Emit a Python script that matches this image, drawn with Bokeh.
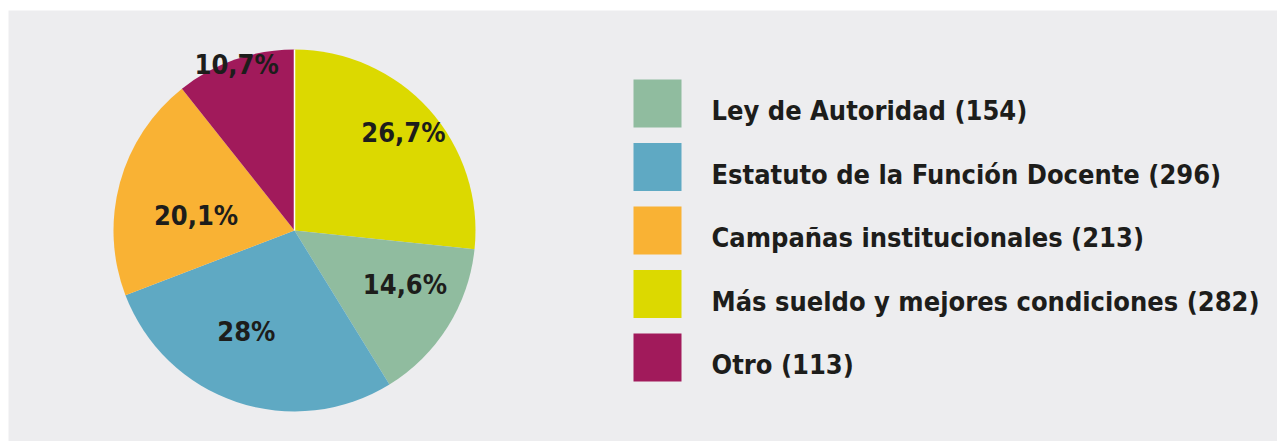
import math
from bokeh.plotting import figure
from bokeh.models import ColumnDataSource
from bokeh.core.properties import value
from bokeh.embed import file_html
from bokeh.resources import INLINE

# ---- data ----
categories = ["Ley de Autoridad", "Estatuto de la Función Docente",
              "Campañas institucionales", "Más sueldo y mejores condiciones", "Otro"]
counts = [154, 296, 213, 282, 113]
percent_labels = ["14,6%", "28%", "20,1%", "26,7%", "10,7%"]
pie_order = [3, 0, 1, 2, 4]  # clockwise from 12 o'clock

# ---- style ----
colors = ["#90bc9f", "#5fa9c3", "#f9b234", "#dcd900", "#a11a5b"]
label_radius = [0.68, 0.62, 0.55, 0.81, 0.97]
label_nudge_deg = [6.0, -6.7, 6.7, 0.0, 0.0]
BG = "#ededef"
TXT = "#1d1d1b"
FONT = "DejaVu Sans Condensed, Roboto Condensed, Roboto"

W, H = 1269, 431       # grey area
cx, cy, R = 286, 211, 181

p = figure(width=W + 8, height=H + 10, x_range=(0, W), y_range=(0, H),
           output_backend="svg", toolbar_location=None,
           min_border_left=8, min_border_right=0, min_border_bottom=0, min_border_top=10)
p.axis.visible = False
p.grid.visible = False
p.outline_line_color = None
p.background_fill_color = BG
p.border_fill_color = "white"

total = sum(counts)
starts, ends, xs, ys, txt, cols = [], [], [], [], [], []
cum = 0.0
for i in pie_order:
    a0 = math.pi / 2 - 2 * math.pi * cum / total
    cum += counts[i]
    a1 = math.pi / 2 - 2 * math.pi * cum / total
    starts.append(a0)
    ends.append(a1)
    cols.append(colors[i])
    mid = (a0 + a1) / 2 + math.radians(label_nudge_deg[i])
    xs.append(cx + label_radius[i] * R * math.cos(mid))
    ys.append(cy + label_radius[i] * R * math.sin(mid))
    txt.append(percent_labels[i])

src = ColumnDataSource(dict(start=starts, end=ends, color=cols))
p.wedge(x=cx, y=cy, radius=R, start_angle="start", end_angle="end",
        direction="clock", fill_color="color", line_color=None, source=src)

# thin white separator at the starting angle
a = math.pi / 2
p.segment(x0=[cx], y0=[cy], x1=[cx + R * math.cos(a)], y1=[cy + R * math.sin(a)],
          line_color="white", line_width=1.5)

lsrc = ColumnDataSource(dict(x=xs, y=ys, t=txt))
p.text(x="x", y="y", text="t", source=lsrc, text_align="center", text_baseline="middle",
       text_font=value(FONT), text_font_style="bold", text_font_size="27px",
       text_color=TXT)

# ---- legend ----
sq = 48
leg_x = 625
leg_top = 362
leg_step = 63.5
lx, ly, lt, lc = [], [], [], []
for k, (c, n) in enumerate(zip(categories, counts)):
    yc = leg_top - k * leg_step - sq / 2
    lx.append(leg_x + sq / 2)
    ly.append(yc)
    lc.append(colors[k])
    lt.append(f"{c} ({n})")
p.rect(x=lx, y=ly, width=sq, height=sq, fill_color=lc, line_color=None)
tsrc = ColumnDataSource(dict(x=[leg_x + 78] * len(lt), y=[v - 7 for v in ly], t=lt))
p.text(x="x", y="y", text="t", source=tsrc, text_align="left", text_baseline="middle",
       text_font=value(FONT), text_font_style="bold", text_font_size="27px",
       text_color=TXT)

open("out.html", "w").write(file_html(p, INLINE))
